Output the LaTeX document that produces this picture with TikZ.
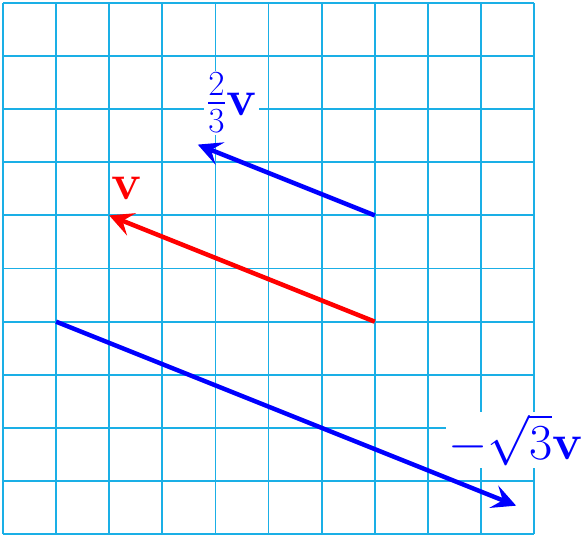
\RequirePackage{fix-cm}
\documentclass[tikz,border=0pt]{standalone}
\usetikzlibrary{arrows.meta,calc}
\usepackage{amsmath}
\definecolor{GridCyan}{HTML}{1AAFE6}

\begin{document}
\begin{tikzpicture}[x=1cm,y=1cm, vec/.style={line width=2.4pt,-{Stealth[length=4.5mm,width=4.5mm,inset=1.8mm]}}, lbl/.style={fill=white,inner sep=1pt,font=\fontsize{27}{33}\selectfont}]
  \useasboundingbox (-0.056,-0.15) rectangle (10.92,10.056);
  \draw[GridCyan,line width=1pt] (0,0) grid (10,10);
  \coordinate (o1) at (1,4); \coordinate (o2) at (7,4); \coordinate (o3) at (7,6);
  \coordinate (t1) at ($(o1)+{sqrt(3)}*(5,-2)$); \coordinate (t2) at (2,6); \coordinate (t3) at ($(o3)+2/3*(-5,2)$);
  \draw[vec,red] (o2)--(t2);
  \draw[vec,blue] (o3)--(t3);
  \draw[vec,blue] (o1)--(t1);
  \node[lbl,text=red] (lv) at (2.34,6.52) {$\mathbf{v}$};
  \node[lbl,text=blue] (lw) at (4.31,8.12) {$\frac{2}{3}\mathbf{v}$};
  \node[lbl,text=blue] (lu) at (9.65,1.77) {$-\sqrt{3}\mathbf{v}$};
\end{tikzpicture}
\end{document}
